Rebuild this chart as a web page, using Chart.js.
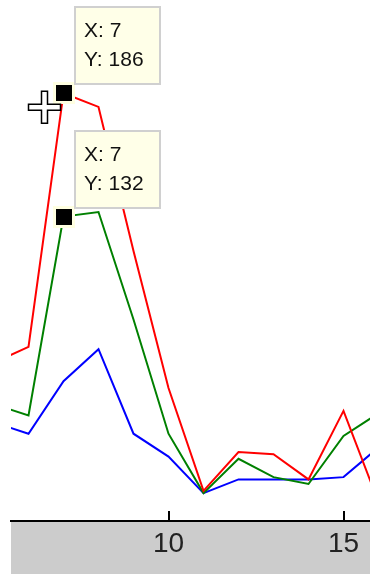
<!DOCTYPE html>
<html>
<head>
<meta charset="utf-8">
<script src="https://cdn.jsdelivr.net/npm/chart.js@4"></script>
<style>
  html, body { margin: 0; padding: 0; background: #fff; }
  canvas { display: block; }
</style>
</head>
<body>
<canvas id="grafico" width="370" height="574"></canvas>
<script>
// Datos de las tres series
const xValores = [5, 6, 7, 8, 9, 10, 11, 12, 13, 14, 15, 16];
const serieRoja = [68, 75, 186, 180, 117, 57, 12, 29, 28, 17, 47, 7];
const serieVerde = [50, 45, 132, 134, 87, 37, 11, 26, 18, 15, 36, 46];
const serieAzul = [42, 37, 60, 74, 37, 27, 11, 17, 17, 17, 18, 31];
const xDivisiones = [10, 15];

// Puntos con cuadro de datos: índice de serie y valor de x
const puntosMarcados = [
  { serie: 0, x: 7 },
  { serie: 1, x: 7 }
];

function aPuntos(valores) {
  return valores.map((v, i) => ({ x: xValores[i], y: v }));
}

// Cursor en cruz
function dibujarCursor(ctx, cx, cy) {
  const a = 16, g = 3;
  const forma = [[-g, -a], [g, -a], [g, -g], [a, -g], [a, g], [g, g], [g, a], [-g, a], [-g, g], [-a, g], [-a, -g], [-g, -g]];
  ctx.beginPath();
  forma.forEach(([dx, dy], i) => {
    if (i === 0) ctx.moveTo(cx + dx, cy + dy); else ctx.lineTo(cx + dx, cy + dy);
  });
  ctx.closePath();
  ctx.fillStyle = '#fff';
  ctx.fill();
  ctx.strokeStyle = '#000';
  ctx.lineWidth = 1.5;
  ctx.stroke();
  ctx.beginPath();
  ctx.arc(cx, cy, 2.5, 0, Math.PI * 2);
  ctx.fillStyle = '#fff';
  ctx.fill();
}

const fondoFigura = {
  id: 'fondoFigura',
  beforeDraw(chart) {
    const { ctx, chartArea } = chart;
    ctx.save();
    ctx.fillStyle = '#cccccc';
    ctx.fillRect(chartArea.left, chartArea.bottom, chartArea.right - chartArea.left, chart.height - chartArea.bottom);
    ctx.restore();
  }
};

const cuadrosDatos = {
  id: 'cuadrosDatos',
  afterDatasetsDraw(chart) {
    const { ctx, chartArea } = chart;
    const xs = chart.scales.x, ys = chart.scales.y;
    ctx.save();
    // marcas de división hacia dentro
    ctx.strokeStyle = '#000';
    ctx.lineWidth = 2;
    xs.ticks.forEach(t => {
      const px = Math.round(xs.getPixelForValue(t.value));
      ctx.beginPath();
      ctx.moveTo(px, chartArea.bottom);
      ctx.lineTo(px, chartArea.bottom - 10);
      ctx.stroke();
    });

    puntosMarcados.forEach(p => {
      const i = xValores.indexOf(p.x);
      const valor = chart.data.datasets[p.serie].data[i].y;
      const px = Math.round(xs.getPixelForValue(p.x));
      const py = Math.round(ys.getPixelForValue(valor));

      // marcador
      ctx.fillStyle = '#ffffe1';
      ctx.fillRect(px - 11, py - 11, 22, 22);
      ctx.fillStyle = '#000';
      ctx.fillRect(px - 8, py - 8, 16, 16);

      // cuadro con el texto
      const bx = px + 11, by = py - 86;
      ctx.fillStyle = '#ffffe8';
      ctx.fillRect(bx, by, 85, 77);
      ctx.strokeStyle = '#d0d0d0';
      ctx.lineWidth = 2;
      ctx.strokeRect(bx, by, 85, 77);
      ctx.fillStyle = '#111';
      ctx.font = '21px Arial, "Liberation Sans", sans-serif';
      ctx.textBaseline = 'middle';
      ctx.fillText('X: ' + p.x, bx + 9, by + 24);
      ctx.fillText('Y: ' + valor, bx + 9, by + 53);
    });
    ctx.restore();
  },
  afterDraw(chart) {
    const xs = chart.scales.x, ys = chart.scales.y;
    const p = puntosMarcados[0];
    const valor = chart.data.datasets[p.serie].data[xValores.indexOf(p.x)].y;
    dibujarCursor(chart.ctx, xs.getPixelForValue(p.x) - 19, ys.getPixelForValue(valor) + 14);
  }
};

const ctxGrafico = document.getElementById('grafico').getContext('2d');
new Chart(ctxGrafico, {
  type: 'line',
  data: {
    datasets: [
      { data: aPuntos(serieRoja), borderColor: '#ff0000' },
      { data: aPuntos(serieVerde), borderColor: '#008000' },
      { data: aPuntos(serieAzul), borderColor: '#0000ff' }
    ]
  },
  options: {
    responsive: false,
    animation: false,
    events: [],
    layout: { padding: { left: 11, top: 0, right: 0, bottom: 0 } },
    elements: {
      line: { borderWidth: 2, tension: 0, fill: false },
      point: { radius: 0 }
    },
    plugins: {
      legend: { display: false },
      tooltip: { enabled: false }
    },
    scales: {
      x: {
        type: 'linear',
        min: 5.5,
        max: 15.757,
        afterBuildTicks: (escala) => { escala.ticks = xDivisiones.map(v => ({ value: v })); },
        afterFit: (escala) => { escala.height = 53; },
        grid: { display: false, drawTicks: false },
        border: { display: true, color: '#000', width: 2 },
        ticks: {
          autoSkip: false,
          maxRotation: 0,
          padding: 6,
          color: '#222',
          font: { family: '"Liberation Sans Narrow", "Arial Narrow", Arial, sans-serif', size: 28 }
        }
      },
      y: {
        display: false,
        min: -1.2,
        max: 226.8
      }
    }
  },
  plugins: [fondoFigura, cuadrosDatos]
});
</script>
</body>
</html>
